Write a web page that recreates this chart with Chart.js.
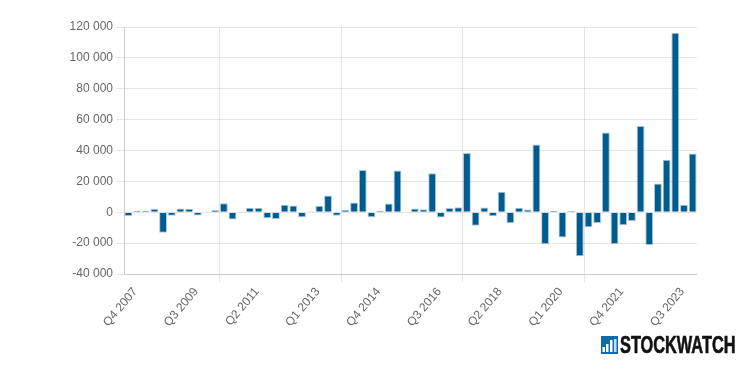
<!DOCTYPE html>
<html><head><meta charset="utf-8">
<style>
html,body{margin:0;padding:0;background:#fff;width:749px;height:371px;overflow:hidden}
#wrap{position:relative;width:749px;height:371px}
#logoText{position:absolute;left:620px;top:332px;font:bold 23px "Liberation Sans",sans-serif;color:#111;transform-origin:0 0;transform:scaleX(0.71);white-space:nowrap;line-height:26px;-webkit-text-stroke:0.6px #111}
#logoIcon{position:absolute;left:601px;top:336px;width:17px;height:18px}
canvas{display:block}
</style></head><body>
<div id="wrap">
<canvas id="c" width="749" height="371"></canvas>
<svg id="logoIcon" viewBox="0 0 17 18"><rect width="17" height="18" fill="#0f6cab"/><rect x="1.5" y="11" width="2.5" height="5" fill="#fff"/><rect x="5" y="8" width="2.5" height="8" fill="#fff"/><rect x="9" y="4" width="2.5" height="12" fill="#fff"/><rect x="13" y="3" width="2.5" height="13" fill="#bfe0f5"/></svg>
<div id="logoText">STOCKWATCH</div>
</div>
<script src="https://cdn.jsdelivr.net/npm/chart.js@4/dist/chart.umd.min.js"></script>
<script>
const categories = [
"Q4 2007","Q1 2008","Q2 2008","Q3 2008","Q4 2008","Q1 2009","Q2 2009","Q3 2009","Q4 2009","Q1 2010","Q2 2010",
"Q3 2010","Q4 2010","Q1 2011","Q2 2011","Q3 2011","Q4 2011","Q1 2012","Q2 2012","Q3 2012","Q4 2012","Q1 2013",
"Q2 2013","Q3 2013","Q4 2013","Q1 2014","Q2 2014","Q3 2014","Q4 2014","Q1 2015","Q2 2015","Q3 2015","Q4 2015",
"Q1 2016","Q2 2016","Q3 2016","Q4 2016","Q1 2017","Q2 2017","Q3 2017","Q4 2017","Q1 2018","Q2 2018","Q3 2018",
"Q4 2018","Q1 2019","Q2 2019","Q3 2019","Q4 2019","Q1 2020","Q2 2020","Q3 2020","Q4 2020","Q1 2021","Q2 2021",
"Q3 2021","Q4 2021","Q1 2022","Q2 2022","Q3 2022","Q4 2022","Q1 2023","Q2 2023","Q3 2023","Q4 2023","Q1 2024"];
const values = [
-2500,1000,1000,2300,-13200,-2300,2500,2300,-2100,200,1400,
5900,-4700,100,2900,2900,-3900,-4300,4800,4400,-3200,100,
4200,10900,-2300,1600,6300,27300,-3200,1000,5700,27100,0,
2500,2000,25300,-3400,2700,3300,38300,-8800,3100,-2600,13300,
-7100,2900,1800,43900,-20500,1000,-16400,800,-28500,-9700,-6900,
51700,-20500,-8400,-5600,55900,-21200,18700,34000,116300,4800,38100];
const labelEvery = 7;
const gridIndexes = [0,11,25,39,53];
const barColor = "#005b8f";
const barEdge = "rgba(0,91,143,0.35)";
const gridColor = "rgba(0,0,0,0.1)";

new Chart(document.getElementById("c"), {
  type: "bar",
  data: { labels: categories, datasets: [{ data: values, backgroundColor: barColor, borderColor: barEdge, borderWidth: 1, barPercentage: 0.95, categoryPercentage: 0.95 }] },
  options: {
    responsive: false, animation: false,
    layout: { padding: { top: 27, right: 52, left: 0, bottom: 0 } },
    plugins: { legend: { display: false }, tooltip: { enabled: false } },
    scales: {
      x: {
        offset: true,
        afterFit: s => { s.height = 97; },
        grid: { offset: true, tickLength: 8,
          color: c => gridIndexes.includes(c.index) ? gridColor : "transparent",
          tickColor: c => (gridIndexes.includes(c.index) && c.index !== 0) ? gridColor : "transparent" },
        ticks: { autoSkip: false, maxRotation: 50, minRotation: 50, labelOffset: 7, color: "#666",
          font: { family: "'Liberation Sans',Arial,sans-serif", size: 12 },
          callback: function (v, i) { return i % labelEvery === 0 ? this.getLabelForValue(v) : ""; } }
      },
      y: {
        min: -40000, max: 120000,
        afterFit: s => { s.width = 124; },
        grid: { color: gridColor, tickLength: 8 },
        ticks: { stepSize: 20000, color: "#666", font: { family: "'Liberation Sans',Arial,sans-serif", size: 12 },
          callback: v => String(v).replace(/\B(?=(\d{3})+(?!\d))/g, " ") }
      }
    }
  }
});
</script>
</body></html>
